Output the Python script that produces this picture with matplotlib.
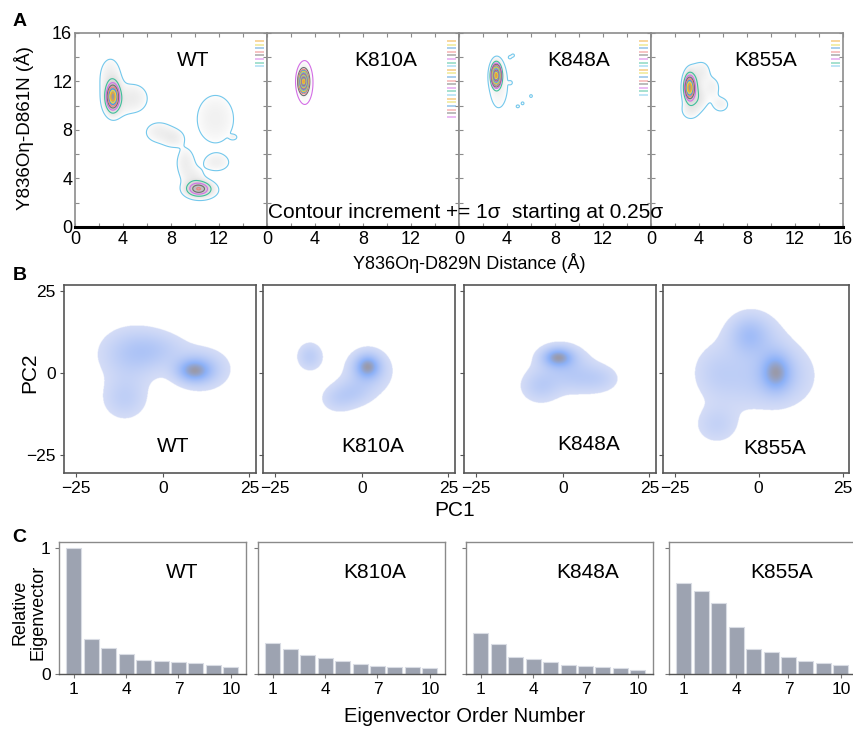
import numpy as np
import matplotlib
matplotlib.use('Agg')
import matplotlib.pyplot as plt
from matplotlib.colors import LinearSegmentedColormap
from matplotlib.ticker import MultipleLocator

plt.rcParams['font.family'] = ['Liberation Sans', 'DejaVu Sans']

W, H = 854, 729
fig = plt.figure(figsize=(W / 100, H / 100), dpi=100)

VARIANTS = ['WT', 'K810A', 'K848A', 'K855A']

# ---------------- Panel A: density blobs (x, y, sx, sy, amplitude) in Angstrom ----------------
A_WT_BLOBS = [
    (3.15, 10.75, 0.32, 0.65, 1.00),
    (2.95, 12.30, 0.60, 1.10, 0.09),
    (3.30, 10.30, 0.70, 0.90, 0.09),
    (4.90, 10.60, 0.80, 0.80, 0.09),
    (7.00, 7.80, 0.80, 0.60, 0.08),
    (8.20, 7.30, 0.60, 0.50, 0.08),
    (11.70, 8.90, 1.20, 1.55, 0.075),
    (13.20, 7.40, 0.20, 0.14, 0.05),
    (9.20, 5.30, 0.50, 0.80, 0.085),
    (9.90, 4.00, 0.60, 0.60, 0.08),
    (10.60, 3.00, 0.90, 0.50, 0.08),
    (10.30, 3.15, 0.60, 0.36, 0.50),
    (11.80, 5.30, 0.75, 0.50, 0.075),
]
A_K810A_BLOBS = [
    (3.05, 12.00, 0.20, 0.45, 1.00),
    (3.15, 11.90, 0.45, 1.20, 0.035),
]
A_K848A_BLOBS = [
    (3.10, 12.50, 0.22, 0.50, 1.00),
    (3.30, 11.80, 0.50, 1.30, 0.05),
    (4.25, 14.00, 0.12, 0.12, 0.025),
    (4.50, 14.15, 0.12, 0.12, 0.025),
    (4.30, 11.90, 0.12, 0.12, 0.025),
    (6.00, 10.80, 0.12, 0.12, 0.025),
    (5.30, 10.20, 0.12, 0.12, 0.025),
    (4.90, 9.95, 0.14, 0.12, 0.025),
]
A_K855A_BLOBS = [
    (3.20, 11.50, 0.25, 0.60, 1.00),
    (3.50, 11.40, 0.45, 1.00, 0.20),
    (4.00, 10.50, 0.50, 0.60, 0.08),
    (4.30, 12.80, 0.45, 0.60, 0.07),
    (5.10, 11.50, 0.45, 0.60, 0.07),
    (5.80, 10.10, 0.50, 0.45, 0.07),
    (3.20, 9.60, 0.50, 0.50, 0.06),
]
A_BLOBS = [A_WT_BLOBS, A_K810A_BLOBS, A_K848A_BLOBS, A_K855A_BLOBS]
A_LEVEL_COUNTS = [8, 22, 16, 8]
A_XTICKS = [0, 4, 8, 12]
A_YTICKS = [0, 4, 8, 12, 16]

# ---------------- Panel B: PCA density blobs (pc1, pc2, s1, s2, amplitude) ----------------
B_WT_BLOBS = [
    (9.0, 0.5, 3.5, 2.5, 1.00),
    (12.0, 1.0, 5.5, 4.5, 0.40),
    (-9.0, 5.5, 6.5, 5.5, 0.50),
    (-1.0, 7.0, 6.0, 3.8, 0.30),
    (-11.0, -8.0, 4.5, 4.5, 0.40),
]
B_K810A_BLOBS = [
    (-15.0, 4.8, 2.6, 3.0, 0.45),
    (1.7, 1.8, 2.5, 2.5, 1.00),
    (2.0, 0.0, 5.0, 5.0, 0.40),
    (-7.0, -8.0, 3.5, 3.0, 0.35),
    (-2.0, -6.0, 3.5, 3.0, 0.30),
]
B_K848A_BLOBS = [
    (-1.4, 4.6, 3.0, 2.0, 1.00),
    (0.0, 3.0, 5.5, 4.0, 0.38),
    (-6.4, -4.3, 4.0, 3.5, 0.45),
    (11.0, -2.0, 4.0, 3.0, 0.32),
    (4.0, -2.0, 4.5, 3.5, 0.30),
]
B_K855A_BLOBS = [
    (5.2, 0.0, 3.0, 4.0, 1.00),
    (8.0, -1.0, 6.5, 6.5, 0.45),
    (-2.9, 11.6, 4.0, 4.0, 0.55),
    (-1.0, 10.0, 6.5, 6.0, 0.35),
    (-13.0, 0.0, 5.0, 6.0, 0.35),
    (-12.5, -16.0, 4.5, 4.0, 0.40),
    (-3.0, -3.0, 7.0, 6.0, 0.35),
]
B_BLOBS = [B_WT_BLOBS, B_K810A_BLOBS, B_K848A_BLOBS, B_K855A_BLOBS]
B_TICKS = [-25, 0, 25]

# ---------------- Panel C: relative eigenvalues ----------------
C_ORDER = [1, 2, 3, 4, 5, 6, 7, 8, 9, 10]
C_WT = [1.00, 0.277, 0.206, 0.162, 0.115, 0.104, 0.099, 0.084, 0.073, 0.057]
C_K810A = [0.245, 0.198, 0.151, 0.128, 0.102, 0.076, 0.063, 0.055, 0.052, 0.044]
C_K848A = [0.326, 0.235, 0.133, 0.117, 0.099, 0.070, 0.060, 0.055, 0.044, 0.034]
C_K855A = [0.718, 0.658, 0.567, 0.371, 0.201, 0.175, 0.136, 0.104, 0.086, 0.070]
C_VALUES = [C_WT, C_K810A, C_K848A, C_K855A]
C_XTICKS = [1, 4, 7, 10]

# ---------------- styling ----------------
CONTOUR_CYCLE = ['#f0a830', '#e6d84a', '#4a9ad8', '#ef7f7f', '#6e6e6e',
                 '#d46ee6', '#3fbf9a', '#74c8ec']
SPINE_A = '#8c8c8c'
FS_TICK = 13


def px_axes(left, top, width, height):
    return fig.add_axes([left / W, 1 - (top + height) / H, width / W, height / H])


def density(blobs, X, Y):
    Z = np.zeros_like(X)
    for cx, cy, sx, sy, a in blobs:
        Z += a * np.exp(-0.5 * (((X - cx) / sx) ** 2 + ((Y - cy) / sy) ** 2))
    return Z


# ================= Panel A =================
gx = np.linspace(0, 16, 481)
XA, YA = np.meshgrid(gx, gx)
grey = LinearSegmentedColormap.from_list('g', ['#ffffff', '#9a9a9a'])
A_LEFTS = [75, 267, 459, 651]
A_TITLE_X = [193, 386, 579, 766]
for i, v in enumerate(VARIANTS):
    ax = px_axes(A_LEFTS[i], 33, 192, 194)
    Z = density(A_BLOBS[i], XA, YA)
    zmax = Z.max()
    n = A_LEVEL_COUNTS[i]
    step = zmax / (n + 0.2)
    lo = 0.25 * step
    shade = np.clip((Z - lo) / (zmax - lo), 0, 1) ** 0.6
    ax.imshow(shade, extent=[0, 16, 0, 16], origin='lower', cmap=grey,
              vmin=0, vmax=1, aspect='auto', interpolation='bilinear', zorder=0)
    levels = lo + step * np.arange(n)
    cols = [CONTOUR_CYCLE[(n - 1 - k) % 8] for k in range(n)]
    ax.contour(XA, YA, Z, levels=levels, colors=cols, linewidths=0.8, zorder=2)
    for j in range(n):
        yy = 0.959 - j * 0.0186
        ax.plot([0.9375, 0.984], [yy, yy], transform=ax.transAxes,
                color=CONTOUR_CYCLE[j % 8], lw=1.2, alpha=0.55, solid_capstyle='butt')
    ax.set_xlim(0, 16)
    ax.set_ylim(0, 16)
    ax.set_xticks(A_XTICKS + ([16] if i == 3 else []))
    ax.xaxis.set_minor_locator(MultipleLocator(2))
    ax.set_yticks(A_YTICKS)
    ax.yaxis.set_minor_locator(MultipleLocator(2))
    ax.tick_params(which='both', direction='in', top=True, right=True,
                   length=3, width=0.8, color=SPINE_A, labelsize=FS_TICK, pad=3)
    ax.tick_params(axis='y', which='both', pad=2)
    if i > 0:
        ax.tick_params(axis='y', labelleft=False)
    for s in ['top', 'left', 'right']:
        ax.spines[s].set_color(SPINE_A)
        ax.spines[s].set_linewidth(1.2)
    ax.spines['bottom'].set_color('black')
    ax.spines['bottom'].set_linewidth(2.2)
    fig.text(A_TITLE_X[i] / W, 1 - 60 / H, v, ha='center', va='center', fontsize=15)

fig.text(24 / W, 1 - 128 / H, 'Y836Oη-D861N (Å)', rotation=90, ha='center', va='center',
         fontsize=13.5)
fig.text(469 / W, 1 - 263 / H, 'Y836Oη-D829N Distance (Å)', ha='center', va='center',
         fontsize=13)
fig.text(268 / W, 1 - 212 / H, 'Contour increment += 1σ  starting at 0.25σ',
         ha='left', va='center', fontsize=15, zorder=10)

# ================= Panel B =================
px = np.linspace(-30, 30, 481)
XB, YB = np.meshgrid(px, px)
blue_cmap = LinearSegmentedColormap.from_list(
    'b', [(0.0, '#d4dcf6'), (0.45, '#a9c1f7'), (0.7, '#8cb1f8'), (1.0, '#9a9aaa')])
B_LEFTS = [64, 263, 464, 663]
B_WIDTHS = [192, 192, 192, 186]
B_LABEL_POS = [(173, 447), (373, 447), (589, 445), (775, 448)]
B_THR = 0.12
for i, v in enumerate(VARIANTS):
    ax = px_axes(B_LEFTS[i], 285, B_WIDTHS[i], 188)
    Z = density(B_BLOBS[i], XB, YB)
    Z = Z / Z.max()
    rgba = blue_cmap(np.clip((Z - B_THR) / (1 - B_THR), 0, 1))
    rgba[Z < B_THR] = (1, 1, 1, 1)
    ax.imshow(rgba, extent=[-30, 30, -30, 30], origin='lower',
              aspect='auto', interpolation='bilinear')
    ax.set_xlim(-28.5, 26.9)
    ax.set_ylim(-30.5, 26.8)
    ax.set_xticks(B_TICKS)
    ax.set_yticks(B_TICKS)
    ax.tick_params(direction='out', length=3, width=0.8, color='#555555',
                   labelsize=12.5, pad=3)
    if i > 0:
        ax.tick_params(axis='y', labelleft=False)
    for s in ax.spines.values():
        s.set_color('#555555')
        s.set_linewidth(1.2)
    fig.text(B_LABEL_POS[i][0] / W, 1 - B_LABEL_POS[i][1] / H, v, ha='center',
             va='center', fontsize=15)

fig.text(455 / W, 1 - 510 / H, 'PC1', ha='center', va='center', fontsize=15)
fig.text(30 / W, 1 - 373 / H, 'PC2', rotation=90, ha='center', va='center', fontsize=15)

# ================= Panel C =================
C_LEFTS = [59, 258, 466, 669]
C_TITLE_POS = [(182, 573), (375, 573), (588, 572), (782, 572)]
for i, v in enumerate(VARIANTS):
    ax = px_axes(C_LEFTS[i], 542, 187, 132)
    ax.bar(C_ORDER, C_VALUES[i], width=0.86, color='#9da3b1', edgecolor='#d9dce4',
           linewidth=0.8)
    ax.set_xlim(0.15, 10.87)
    ax.set_ylim(0, 1.047)
    ax.set_xticks(C_XTICKS)
    ax.set_yticks([0, 1])
    ax.set_yticklabels(['0', '1'])
    ax.tick_params(direction='out', length=3, width=0.8, color='#777777',
                   labelsize=12.5, pad=3)
    if i > 0:
        ax.tick_params(axis='y', labelleft=False)
    for s in ax.spines.values():
        s.set_color('#8a8a8a')
        s.set_linewidth(1.0)
    ax.spines['bottom'].set_color('#555555')
    fig.text(C_TITLE_POS[i][0] / W, 1 - C_TITLE_POS[i][1] / H, v, ha='center',
             va='center', fontsize=15)

fig.text(29 / W, 1 - 612 / H, 'Relative\nEigenvector', rotation=90, ha='center',
         va='center', fontsize=13, linespacing=1.1)
fig.text(465 / W, 1 - 717 / H, 'Eigenvector Order Number', ha='center', va='center',
         fontsize=14.5)

# panel letters
for lab, (xx, yy) in zip(['A', 'B', 'C'], [(20, 22), (20, 275), (19, 538)]):
    fig.text(xx / W, 1 - yy / H, lab, ha='center', va='center', fontsize=14,
             fontweight='bold')

fig.savefig('out.png', dpi=100)
